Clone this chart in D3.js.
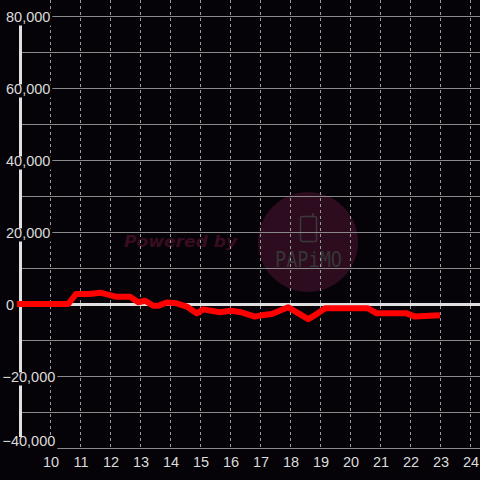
<!DOCTYPE html>
<html><head><meta charset="utf-8">
<script src="https://cdn.jsdelivr.net/npm/d3@7"></script>
<style>body{margin:0;background:#050307;}svg{display:block;}</style>
</head><body>
<script>
const hours = [8.9,10.61,10.87,11.33,11.67,12.22,12.67,12.94,13.17,13.44,13.61,13.89,14.22,14.56,14.89,15.11,15.67,16.0,16.33,16.83,17.06,17.39,17.94,18.28,18.61,18.83,19.17,20.6,20.89,21.89,22.17,23.0];
const values = [0,0,2800,2800,3150,2000,2000,500,900,-500,-500,400,200,-700,-2600,-1500,-2300,-1900,-2200,-3500,-3100,-2800,-900,-2600,-4200,-3100,-1200,-1200,-2600,-2600,-3500,-3100];
const xTicks = [10,11,12,13,14,15,16,17,18,19,20,21,22,23,24];
const yTicks = [80000,60000,40000,20000,0,-20000,-40000];
const yGrid = [80000,70000,60000,50000,40000,30000,20000,10000,0,-10000,-20000,-30000,-40000];

const W=480,H=480;
const svg=d3.select("body").append("svg").attr("width",W).attr("height",H);
svg.append("rect").attr("width",W).attr("height",H).attr("fill","#050307");
const x=d3.scaleLinear().domain([10,24]).range([50,470]);
const y=d3.scaleLinear().domain([-40000,80000]).range([448,16]);

// watermark
svg.append("text").attr("x",124).attr("y",247).attr("font-family","DejaVu Sans").attr("font-weight","bold").attr("font-style","italic").attr("font-size",16.5).attr("fill","#3a0c22").attr("textLength",113).attr("lengthAdjust","spacingAndGlyphs").text("Powered by");
svg.append("circle").attr("cx",308).attr("cy",242).attr("r",50).attr("fill","#2c0c1e");
svg.append("rect").attr("x",300.5).attr("y",216.5).attr("width",16).attr("height",25).attr("rx",2).attr("fill","none").attr("stroke","#3a3a3a").attr("stroke-width",1.5);
svg.append("line").attr("x1",313).attr("y1",216).attr("x2",313).attr("y2",213).attr("stroke","#3a3a3a").attr("stroke-width",1.5);
svg.append("text").attr("x",275).attr("y",267).attr("font-family","DejaVu Sans Mono").attr("font-size",22).attr("fill","#363636").attr("textLength",67).attr("lengthAdjust","spacingAndGlyphs").text("PAPiMO");

// grid
svg.append("g").selectAll("line").data(yGrid).join("line")
  .attr("x1",20).attr("x2",W).attr("y1",d=>y(d)+0.5).attr("y2",d=>y(d)+0.5)
  .attr("stroke","#8a8a8a").attr("stroke-width",1);
svg.append("g").selectAll("line").data(xTicks).join("line")
  .attr("x1",d=>x(d)+0.5).attr("x2",d=>x(d)+0.5).attr("y1",0).attr("y2",448)
  .attr("stroke","#9a9a9a").attr("stroke-width",1).attr("stroke-dasharray","3,3");

// y axis line
svg.append("line").attr("x1",20.5).attr("x2",20.5).attr("y1",16).attr("y2",448).attr("stroke","#e0e0e0").attr("stroke-width",3);
// zero line
svg.append("line").attr("x1",20).attr("x2",W).attr("y1",y(0)+0.5).attr("y2",y(0)+0.5).attr("stroke","#e0e0e0").attr("stroke-width",3);

// y labels with background
const fmt=d3.format(",");
const yl=svg.append("g").selectAll("g").data(yTicks).join("g");
yl.each(function(d){
  const g=d3.select(this);
  const cy = d===-40000 ? y(d)-7 : y(d)+0.5;
  const t=g.append("text").attr("x",d<0?2.5:6).attr("y",cy+5).attr("text-anchor","start")
    .attr("font-family","Liberation Sans").attr("font-size","14.5px").attr("fill","#dcdcdc").text(fmt(d));
  const bb=t.node().getBBox();
  g.insert("rect","text").attr("x",bb.x).attr("y",cy-4).attr("width",bb.width+2).attr("height",13).attr("fill","#050307");
});
// red line
const line=d3.line().x((d,i)=>x(hours[i])).y(d=>y(d));
svg.append("path").datum(values).attr("d",line).attr("fill","none").attr("stroke","#ff0000").attr("stroke-width",6).attr("stroke-linejoin","round");

// x labels
svg.append("g").selectAll("text").data(xTicks).join("text")
  .attr("x",d=>x(d)+1).attr("y",467).attr("text-anchor","middle")
  .attr("font-family","Liberation Sans").attr("font-size","14.5px").attr("fill","#dcdcdc").text(d=>d);
</script>
</body></html>
